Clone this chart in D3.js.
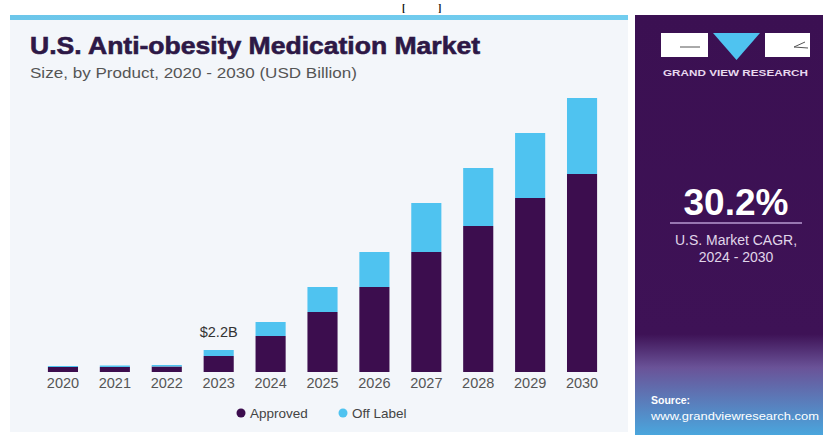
<!DOCTYPE html>
<html>
<head>
<meta charset="utf-8">
<script src="https://cdn.jsdelivr.net/npm/d3@7"></script>
<style>
  body { margin: 0; background: #fff; }
  svg { display: block; font-family: "Liberation Sans", Arial, sans-serif; }
</style>
</head>
<body>
<div id="chart"></div>
<script>
var years    = ['2020','2021','2022','2023','2024','2025','2026','2027','2028','2029','2030'];
var approved = [0.5, 0.5, 0.55, 1.6, 3.6, 6.0, 8.5, 12.0, 14.6, 17.4, 19.8];
var offLabel = [0.1, 0.15, 0.15, 0.6, 1.4, 2.5, 3.5, 4.9, 5.8, 6.5, 7.6];
var seriesNames = ['Approved', 'Off Label'];
var seriesColors = ['#3c0d4e', '#4fc3f0'];

var chart_width  = 823;
var chart_height = 435;

var svg = d3.select('#chart')
            .append('svg')
            .attr('width', chart_width)
            .attr('height', chart_height);

var defs = svg.append('defs');
var topGrad = defs.append('linearGradient').attr('id', 'topline');
topGrad.append('stop').attr('offset', '0%').attr('stop-color', '#6cc6ea');
topGrad.append('stop').attr('offset', '100%').attr('stop-color', '#72cdef');

var sideGrad = defs.append('linearGradient').attr('id', 'side')
    .attr('x1', 0).attr('y1', 0).attr('x2', 0).attr('y2', 1);
sideGrad.append('stop').attr('offset', '0%').attr('stop-color', '#3b1052');
sideGrad.append('stop').attr('offset', '76%').attr('stop-color', '#3e1256');
sideGrad.append('stop').attr('offset', '84%').attr('stop-color', '#6a5398');
sideGrad.append('stop').attr('offset', '100%').attr('stop-color', '#4aa6dd');

// caption fragment at the very top
svg.append('text').attr('x', 402).attr('y', 11)
    .attr('font-family', 'Liberation Serif').attr('font-size', 10)
    .attr('font-weight', 'bold').attr('fill', '#111')
    .text('[');
svg.append('text').attr('x', 438).attr('y', 11)
    .attr('font-family', 'Liberation Serif').attr('font-size', 10)
    .attr('font-weight', 'bold').attr('fill', '#111')
    .text(']');

// left panel
svg.append('rect').attr('x', 10).attr('y', 15).attr('width', 618).attr('height', 417)
    .attr('fill', '#f3f6fa');
svg.append('rect').attr('x', 10).attr('y', 15).attr('width', 618).attr('height', 5)
    .attr('fill', 'url(#topline)');

// right panel
svg.append('rect').attr('x', 635).attr('y', 15).attr('width', 188).attr('height', 420)
    .attr('fill', 'url(#side)');

// titles
svg.append('text').attr('x', 30).attr('y', 54)
    .attr('font-size', 24).attr('font-weight', 'bold').attr('fill', '#2d1846')
    .attr('stroke', '#2d1846').attr('stroke-width', 0.6)
    .attr('textLength', 450).attr('lengthAdjust', 'spacingAndGlyphs')
    .text('U.S. Anti-obesity Medication Market');
svg.append('text').attr('x', 30).attr('y', 78)
    .attr('font-size', 14).attr('fill', '#555')
    .attr('textLength', 327).attr('lengthAdjust', 'spacingAndGlyphs')
    .text('Size, by Product, 2020 - 2030 (USD Billion)');

// scales
var x_scale = d3.scaleBand()
    .domain(years)
    .range([37, 608])
    .paddingInner(0.42)
    .paddingOuter(0.21);

var y_scale = d3.scaleLinear()
    .domain([0, 30])
    .range([372, 72]);

var rows = years.map(function(y, i) {
    return { year: y, Approved: approved[i], 'Off Label': offLabel[i] };
});
var stacked = d3.stack().keys(seriesNames)(rows);

svg.append('g').selectAll('g')
    .data(stacked)
    .enter()
    .append('g')
    .attr('fill', function(d, i) { return seriesColors[i]; })
    .selectAll('rect')
    .data(function(d) { return d; })
    .enter()
    .append('rect')
    .attr('x', function(d) { return x_scale(d.data.year); })
    .attr('y', function(d) { return y_scale(d[1]); })
    .attr('width', x_scale.bandwidth())
    .attr('height', function(d) { return y_scale(d[0]) - y_scale(d[1]); });

// x axis
var x_axis = d3.axisBottom(x_scale).tickSize(0).tickPadding(6);
var ax = svg.append('g').attr('transform', 'translate(0,372)').call(x_axis);
ax.select('.domain').remove();
ax.selectAll('text').attr('font-size', 14.5).attr('fill', '#555')
    .attr('font-family', '"Liberation Sans", Arial, sans-serif');

// value label for 2023
var i23 = years.indexOf('2023');
svg.append('text')
    .attr('x', x_scale('2023') + x_scale.bandwidth() / 2)
    .attr('y', y_scale(approved[i23] + offLabel[i23]) - 13)
    .attr('text-anchor', 'middle').attr('font-size', 14.5).attr('fill', '#333')
    .text('$2.2B');

// legend
var legend = svg.append('g').selectAll('g')
    .data(seriesNames)
    .enter()
    .append('g')
    .attr('transform', function(d, i) { return 'translate(' + (241 + i * 102) + ',413)'; });
legend.append('circle').attr('r', 4.5)
    .attr('fill', function(d, i) { return seriesColors[i]; });
legend.append('text').attr('x', 9).attr('y', 4.5)
    .attr('font-size', 13.5).attr('fill', '#444')
    .text(function(d) { return d; });

// logo
svg.append('rect').attr('x', 661).attr('y', 33).attr('width', 47).attr('height', 24).attr('fill', '#fff');
svg.append('rect').attr('x', 765).attr('y', 33).attr('width', 45).attr('height', 24).attr('fill', '#fff');
svg.append('path').attr('d', 'M713,33 L760,33 L736.5,60 Z').attr('fill', '#4fc3f0');
svg.append('line').attr('x1', 680).attr('y1', 47).attr('x2', 700).attr('y2', 47)
    .attr('stroke', '#555').attr('stroke-width', 1);
svg.append('path').attr('d', 'M808,48 L794,47 L805,42').attr('fill', 'none')
    .attr('stroke', '#555').attr('stroke-width', 1);
svg.append('text').attr('x', 663).attr('y', 76)
    .attr('font-size', 8.5).attr('font-weight', 'bold').attr('fill', '#e8d8ee')
    .attr('textLength', 145).attr('lengthAdjust', 'spacingAndGlyphs')
    .text('GRAND VIEW RESEARCH');

// CAGR
svg.append('text').attr('x', 736).attr('y', 215).attr('text-anchor', 'middle')
    .attr('font-size', 37).attr('font-weight', 'bold').attr('fill', '#fff')
    .text('30.2%');
svg.append('line').attr('x1', 670).attr('x2', 802).attr('y1', 223).attr('y2', 223)
    .attr('stroke', '#b79ad0').attr('stroke-width', 1.5);
svg.append('text').attr('x', 736).attr('y', 245).attr('text-anchor', 'middle')
    .attr('font-size', 14).attr('fill', '#e0d6ea')
    .text('U.S. Market CAGR,');
svg.append('text').attr('x', 736).attr('y', 262).attr('text-anchor', 'middle')
    .attr('font-size', 14).attr('fill', '#e0d6ea')
    .text('2024 - 2030');

// source
svg.append('text').attr('x', 651).attr('y', 404)
    .attr('font-size', 10.5).attr('font-weight', 'bold').attr('fill', '#fff')
    .text('Source:');
svg.append('text').attr('x', 651).attr('y', 420)
    .attr('font-size', 10.5).attr('fill', '#fff')
    .attr('textLength', 168).attr('lengthAdjust', 'spacingAndGlyphs')
    .text('www.grandviewresearch.com');
</script>
</body>
</html>
